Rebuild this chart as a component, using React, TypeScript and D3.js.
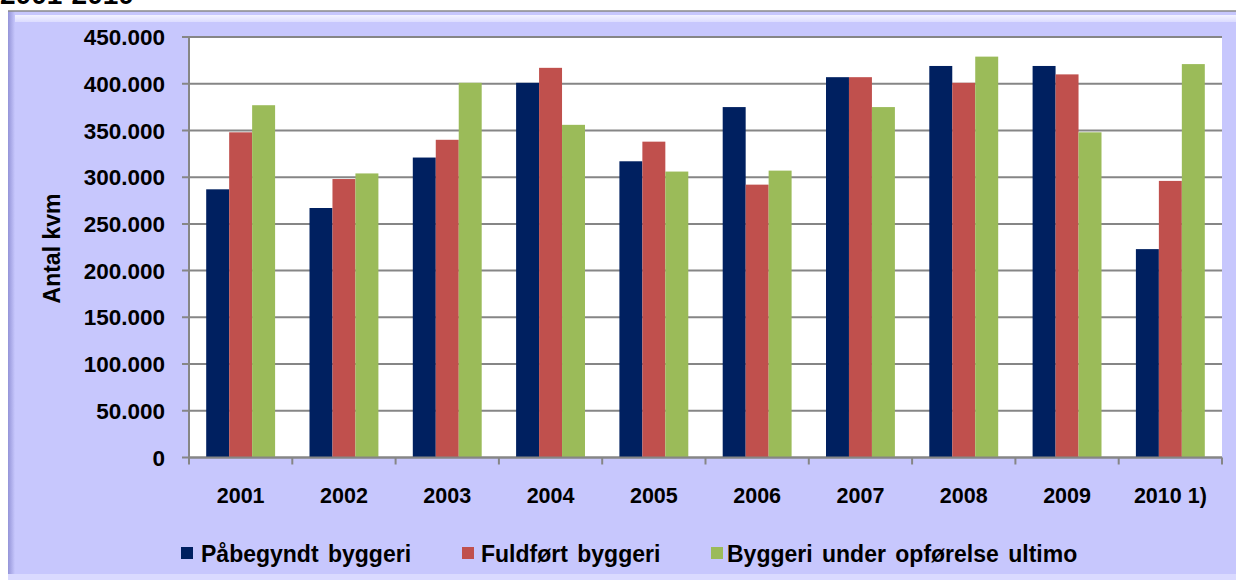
import React from "react";
import * as d3 from "d3";

const categories = ["2001", "2002", "2003", "2004", "2005", "2006", "2007", "2008", "2009", "2010 1)"];
const seriesNames = ["Påbegyndt byggeri", "Fuldført byggeri", "Byggeri under opførelse ultimo"];
const paabegyndt = [287000, 267000, 321000, 401000, 317000, 375000, 407000, 419000, 419000, 223000];
const fuldfoert = [348000, 298000, 340000, 417000, 338000, 292000, 407000, 401000, 410000, 296000];
const underOpfoerelse = [377000, 304000, 401000, 356000, 306000, 307000, 375000, 429000, 348000, 421000];
const seriesColors = ["#002060", "#c0504d", "#9bbb59"];
const yTicks = [0, 50000, 100000, 150000, 200000, 250000, 300000, 350000, 400000, 450000];

const fmt = (v: number) => (v === 0 ? "0" : d3.format(",")(v).replace(/,/g, "."));

export default function App() {
  const W = 1236, H = 580;
  const left = 189, right = 1222, top = 37, bottom = 457.5;
  const x = d3.scaleBand().domain(categories).range([left, right]).paddingInner(0).paddingOuter(0);
  const y = d3.scaleLinear().domain([0, 450000]).range([bottom, top]);
  const bw = x.bandwidth();
  const groupW = bw * 0.667;
  const inner = d3.scaleBand().domain(["0", "1", "2"]).range([0, groupW]).padding(0);
  const series = [paabegyndt, fuldfoert, underOpfoerelse];
  const font = "'Liberation Sans', Arial, sans-serif";
  const legendMarkerX = [181, 462, 711];
  const legendTextX = [201, 481, 727];

  return (
    <svg width={W} height={H} style={{ position: "absolute", left: 0, top: 0, display: "block" }}>
      <defs>
        <linearGradient id="lg" x1="0" x2="1" y1="0" y2="0">
          <stop offset="0" stopColor="#9494d8" />
          <stop offset="1" stopColor="#c7c7fd" />
        </linearGradient>
        <linearGradient id="tg" x1="0" x2="0" y1="0" y2="1">
          <stop offset="0" stopColor="#f2f2ff" />
          <stop offset="1" stopColor="#dcdcff" />
        </linearGradient>
      </defs>
      <rect x={0} y={0} width={W} height={H} fill="#ffffff" />
      <text x={0} y={4} fontFamily={font} fontWeight="bold" fontSize={28} fill="#000">2001-2010</text>
      <rect x={8} y={11} width={W} height={H} fill="#c7c7fd" />
      <rect x={14} y={15} width={W} height={7} fill="url(#tg)" />
      <rect x={8} y={11} width={7} height={H} fill="url(#lg)" />
      <line x1={8} x2={W} y1={11} y2={11} stroke="#8a8a8a" strokeWidth={1.5} />
      <rect x={8} y={574} width={W} height={6} fill="#dadaff" />
      <rect x={left} y={top} width={right - left} height={bottom - top} fill="#ffffff" />
      {yTicks.map((t) => (
        <g key={t}>
          <line x1={182} x2={right} y1={y(t)} y2={y(t)} stroke="#868686" strokeWidth={2} />
          <text x={165} y={y(t)} dy="0.36em" textAnchor="end" fontFamily={font} fontWeight="bold" fontSize={22.5} fill="#000">
            {fmt(t)}
          </text>
        </g>
      ))}
      {categories.map((c, i) => {
        const gx = (x(c) as number) + (bw - groupW) / 2;
        return (
          <g key={c}>
            {series.map((s, k) => (
              <rect key={k} x={gx + (inner(String(k)) as number)} y={y(s[i])} width={inner.bandwidth()} height={bottom - y(s[i])} fill={seriesColors[k]} />
            ))}
            <text x={(x(c) as number) + bw / 2} y={502.5} textAnchor="middle" fontFamily={font} fontWeight="bold" fontSize={21.5} fill="#000">
              {c}
            </text>
          </g>
        );
      })}
      <line x1={left} x2={left} y1={top} y2={bottom} stroke="#868686" strokeWidth={2} />
      <line x1={left} x2={right} y1={bottom} y2={bottom} stroke="#868686" strokeWidth={2} />
      {[...categories.map((c) => x(c) as number), right].map((px, i) => (
        <line key={i} x1={px} x2={px} y1={bottom} y2={bottom + 7} stroke="#868686" strokeWidth={2} />
      ))}
      <text transform={`translate(60,${248.5}) rotate(-90)`} textAnchor="middle" fontFamily={font} fontWeight="bold" fontSize={23} fill="#000">
        Antal kvm
      </text>
      {seriesNames.map((n, k) => (
        <g key={n}>
          <rect x={legendMarkerX[k]} y={547} width={12} height={12} fill={seriesColors[k]} />
          <text x={legendTextX[k]} y={561.5} fontFamily={font} fontWeight="bold" fontSize={23} wordSpacing={3} fill="#000">
            {n}
          </text>
        </g>
      ))}
    </svg>
  );
}
